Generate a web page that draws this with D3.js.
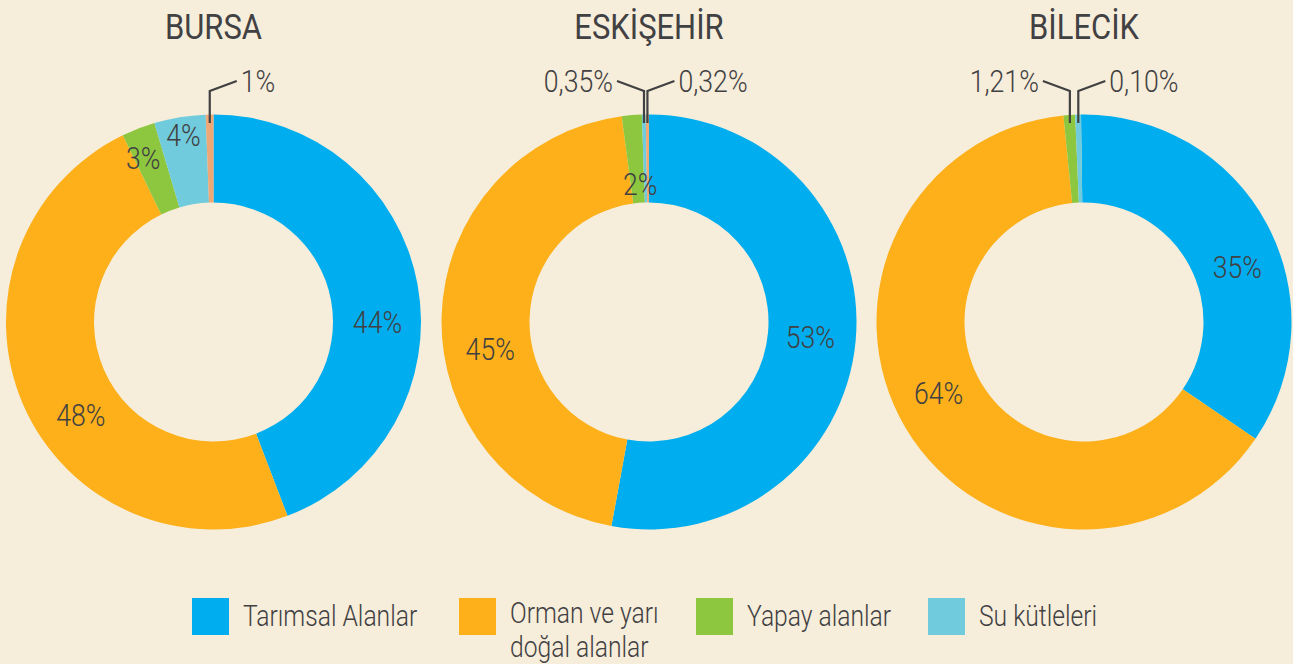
<!DOCTYPE html>
<html>
<head>
<meta charset="utf-8">
<script src="https://cdn.jsdelivr.net/npm/d3@7"></script>
<style>
  html, body { margin: 0; padding: 0; background: #F6EDDA; }
  svg { display: block; }
  text { font-family: Roboto, "Noto Sans", sans-serif; fill: #414042; }
</style>
</head>
<body>
<svg id="chart" width="1293" height="664"></svg>
<script>
// ---- data ----
const regions = ["BURSA", "ESKİŞEHİR", "BİLECİK"];
const categories = ["Tarımsal Alanlar", "Orman ve yarı doğal alanlar", "Yapay alanlar", "Su kütleleri", "Diğer"];
const legendLabels = [["Tarımsal Alanlar"], ["Orman ve yarı", "doğal alanlar"], ["Yapay alanlar"], ["Su kütleleri"]];
const bursaValues = [44.2, 48.6, 2.6, 4.0, 0.6];
const bursaLabels = ["44%", "48%", "3%", "4%", "1%"];
const eskisehirValues = [52.9, 45.0, 1.55, 0.30, 0.25];
const eskisehirLabels = ["53%", "45%", "2%", "0,35%", "0,32%"];
const bilecikValues = [34.75, 63.9, 0.9, 0.45];
const bilecikLabels = ["35%", "64%", "1,21%", "0,10%"];

// ---- style / layout ----
const colors = ["#00AEEF", "#FDB01A", "#8DC63F", "#70CBDC", "#EEA876"];
const color = d3.scaleOrdinal().domain(categories).range(colors);
const cy = 322, rInner = 119.5, rOuter = 207.5;
const SX = 0.86;   // horizontal condensing of the font
const SXL = 0.85;  // legend condensing
const charts = [
  { cx: 213.5, rot: 0, values: bursaValues, labels: bursaLabels,
    lab: [{r: 164, nudge: 10.6}, {r: 162, nudge: -11.6}, {r: 178, nudge: -2}, {r: 189, nudge: 0.2}, {side: 1}] },
  { cx: 649, rot: 0, values: eskisehirValues, labels: eskisehirLabels,
    lab: [{r: 162, nudge: 0}, {r: 161, nudge: -11}, {r: 138, nudge: 1.1}, {side: -1}, {side: 1}] },
  { cx: 1084, rot: -0.83, values: bilecikValues, labels: bilecikLabels,
    lab: [{r: 163, nudge: 8.4}, {r: 162, nudge: 4.6}, {side: -1}, {side: 1}] }
];

const svg = d3.select("#chart");
svg.append("rect").attr("width", 1293).attr("height", 664).attr("fill", "#F6EDDA");

function ctext(parent, x, y, str, size, anchor, weight, sx) {
  const g = parent.append("g").attr("transform", `translate(${x},${y}) scale(${sx || SX},1)`);
  return g.append("text").attr("x", 0).attr("y", 0)
    .attr("text-anchor", anchor).attr("font-size", size)
    .attr("font-weight", weight).text(str);
}

const arc = d3.arc().innerRadius(rInner).outerRadius(rOuter);
const deg = Math.PI / 180;

charts.forEach((c, ci) => {
  const g = svg.append("g").attr("transform", `translate(${c.cx},${cy})`);
  const rot = c.rot * deg;
  const pie = d3.pie().sort(null).startAngle(rot).endAngle(2 * Math.PI + rot);
  const arcs = pie(c.values);

  g.selectAll("path.slice").data(arcs).join("path")
    .attr("class", "slice")
    .attr("d", arc)
    .attr("fill", (d, i) => color(categories[i]));

  // title
  ctext(svg, c.cx, 39, regions[ci], 36, "middle", 400);

  arcs.forEach((d, i) => {
    const L = c.lab[i];
    const mid = (d.startAngle + d.endAngle) / 2;
    if (L.side === undefined) {
      const a = mid + L.nudge * deg;
      const x = L.r * Math.sin(a), y = -L.r * Math.cos(a);
      ctext(g, x, y + 11, c.labels[i], 31, "middle", 300);
    } else {
      const ax = 199 * Math.sin(mid);
      const y0 = -199, yE = -231, yT = -241;
      const ex = ax + L.side * 27;
      g.append("path")
        .attr("d", `M${ax},${y0}L${ax},${yE}L${ex},${yT}`)
        .attr("fill", "none").attr("stroke", "#414042").attr("stroke-width", 2.2);
      ctext(g, ex + L.side * 4, yT + 11, c.labels[i], 31, L.side > 0 ? "start" : "end", 300);
    }
  });
});

// ---- legend ----
const legendX = [192, 459, 696, 928];
const leg = svg.append("g");
legendLabels.forEach((lines, i) => {
  leg.append("rect").attr("x", legendX[i]).attr("y", 598).attr("width", 37).attr("height", 37)
    .attr("fill", color(categories[i]));
  const y0 = lines.length > 1 ? 623 : 626;
  const t = leg.append("g")
    .attr("transform", `translate(${legendX[i] + 51},${y0}) scale(${SXL},1)`)
    .append("text").attr("font-size", 29).attr("font-weight", 300);
  lines.forEach((s, k) => {
    t.append("tspan").attr("x", 0).attr("y", k * 34).text(s);
  });
});
</script>
</body>
</html>
